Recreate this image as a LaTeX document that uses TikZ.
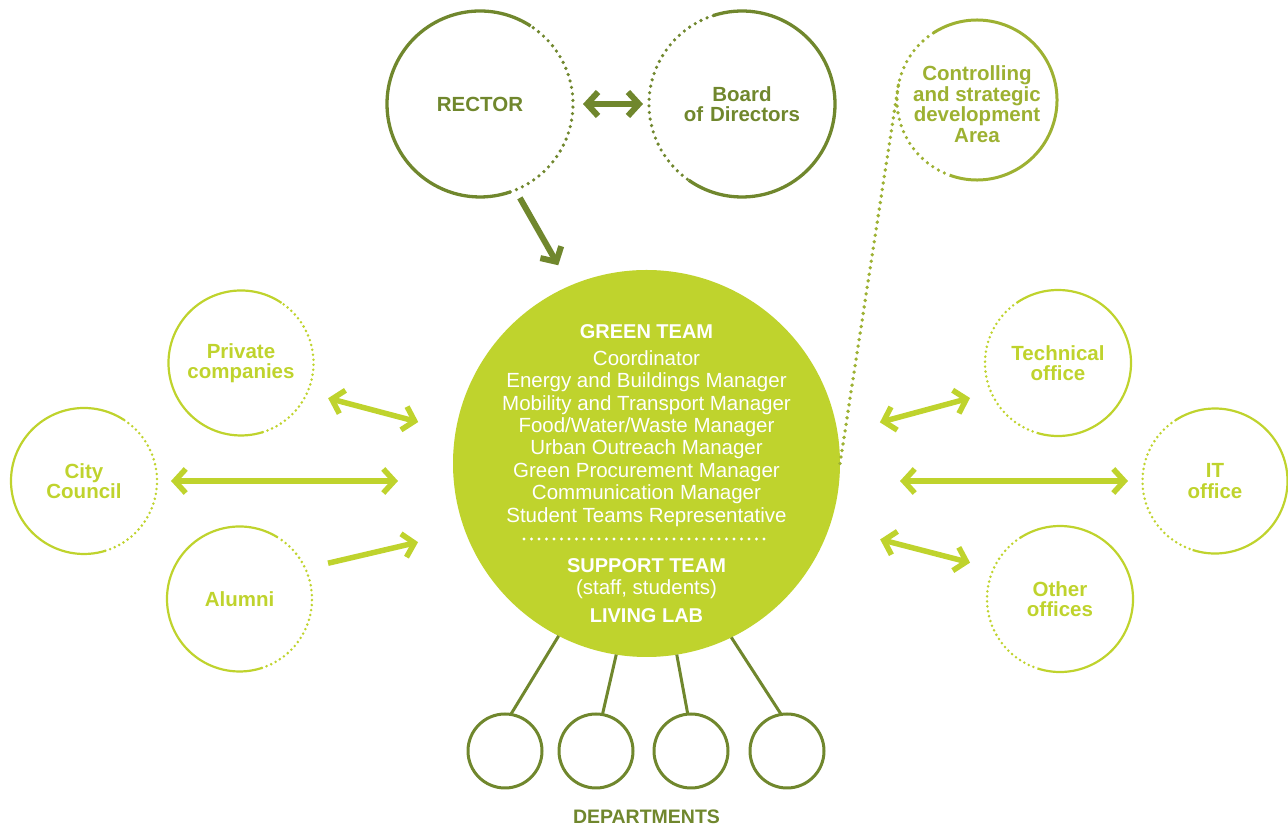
\documentclass[tikz,border=0pt]{standalone}
\usepackage{fontspec}
\setmainfont{Liberation Sans}
\usetikzlibrary{arrows.meta,calc}
\definecolor{oliveg}{RGB}{112,135,45}
\definecolor{limeg}{RGB}{191,211,45}
\definecolor{ctrlg}{RGB}{157,177,50}
\newcommand\lblfont{\fontsize{20.5}{20.5}\selectfont\bfseries}
\newcommand\gtbold{\fontsize{20}{20}\selectfont\bfseries}
\newcommand\gtreg{\fontsize{20.5}{20.5}\selectfont}
% #1 node, #2 radius, #3 dotted start, #4 dotted end, #5 colour, #6 width, #7 dot size, #8 dot gap
\newcommand\arcring[8]{%
  \draw[#5, line width=#6] ([shift={(#4:#2)}]#1.center) arc[start angle=#4, end angle=#3+360, radius=#2];
  \draw[#5, line width=#7, line cap=round, dash pattern=on 0pt off #8] ([shift={(#3:#2)}]#1.center) arc[start angle=#3, end angle=#4, radius=#2];}
\tikzset{
  ring/.style={circle, inner sep=0pt, outer sep=0pt, minimum size=#1, align=center},
  >={Straight Barb[length=11pt,width=24pt]},
  garrow/.style={draw=limeg, line width=5.5pt},
  oarrow/.style={draw=oliveg, line width=6pt},
  deptline/.style={draw=oliveg, line width=3pt},
  gtline/.style={anchor=base, text=white},
}
\begin{document}
\begin{tikzpicture}[x=1pt,y=1pt]
\useasboundingbox (0,0) rectangle (1288,829);
% central circle
\node[ring=387pt, fill=limeg] (gt) at (646.5,365.5) {};
% top circles
\node[ring=186pt, text=oliveg, font=\lblfont] (rector) at (480,725) {RECTOR};
\node[ring=186pt, text=oliveg, font=\lblfont, text width=180pt] (board) at (742,725) {\fontsize{20.5}{21.5}\selectfont Board\\of Directors};
\node[ring=160pt] (ctrl) at (977,729) {};
\node[text=ctrlg, font=\lblfont, align=center] (ctrltxt) at (977,725) {Controlling\\and strategic\\development\\Area};
% left circles
\node[ring=145pt, text=limeg, font=\lblfont, text width=140pt] (priv) at (241,466) {Private\\companies};
\node[ring=146pt, text=limeg, font=\lblfont, text width=140pt] (city) at (84,348) {City\\Council};
\node[ring=145pt, text=limeg, font=\lblfont] (alum) at (239.5,230) {Alumni};
% right circles
\node[ring=146pt, text=limeg, font=\lblfont, text width=140pt] (tech) at (1058,466) {Technical\\office};
\node[ring=145pt, text=limeg, font=\lblfont, text width=140pt] (it) at (1215,348) {IT\\office};
\node[ring=146pt, text=limeg, font=\lblfont, text width=140pt] (other) at (1060,230) {Other\\offices};
% departments
\node[ring=74pt, draw=oliveg, line width=3pt] (d1) at (505,78) {};
\node[ring=74pt, draw=oliveg, line width=3pt] (d2) at (596,78) {};
\node[ring=74pt, draw=oliveg, line width=3pt] (d3) at (691,78) {};
\node[ring=74pt, draw=oliveg, line width=3pt] (d4) at (787,78) {};
\node[anchor=base, text=oliveg, font=\fontsize{19.5}{19.5}\selectfont\bfseries] (dept) at (646.5,5) {DEPARTMENTS};
% rings
\arcring{rector}{93pt}{-71}{57}{oliveg}{3.3pt}{3.6pt}{6.6pt}
\arcring{board}{93pt}{108}{235}{oliveg}{3.3pt}{3.6pt}{6.6pt}
\arcring{ctrl}{80pt}{123}{250}{ctrlg}{3pt}{3.6pt}{6.6pt}
\arcring{priv}{72.5pt}{-72.5}{56}{limeg}{2.2pt}{2.8pt}{5pt}
\arcring{city}{73pt}{-73}{57}{limeg}{2.2pt}{2.8pt}{5pt}
\arcring{alum}{72.5pt}{-72}{58}{limeg}{2.2pt}{2.8pt}{5pt}
\arcring{tech}{73pt}{124}{253}{limeg}{2.2pt}{2.8pt}{5pt}
\arcring{it}{72.5pt}{123}{252}{limeg}{2.2pt}{2.8pt}{5pt}
\arcring{other}{73pt}{123}{252}{limeg}{2.2pt}{2.8pt}{5pt}
% green team text
\node[gtline, font=\gtbold] (g1) at (646.5,490) {GREEN TEAM};
\node[gtline, font=\gtreg] (g2) at (646.5,463.3) {Coordinator};
\node[gtline, font=\gtreg] (g3) at (646.5,441) {Energy and Buildings Manager};
\node[gtline, font=\gtreg] (g4) at (646.5,418.3) {Mobility and Transport Manager};
\node[gtline, font=\gtreg] (g5) at (646.5,396.3) {Food/Water/Waste Manager};
\node[gtline, font=\gtreg] (g6) at (646.5,374) {Urban Outreach Manager};
\node[gtline, font=\gtreg] (g7) at (646.5,351.3) {Green Procurement Manager};
\node[gtline, font=\gtreg] (g8) at (646.5,329) {Communication Manager};
\node[gtline, font=\gtreg] (g9) at (646.5,306.3) {Student Teams Representative};
\coordinate (sepL) at (524,290);
\coordinate (sepR) at (770,290);
\draw[white, line width=3.2pt, line cap=round, dash pattern=on 0pt off 7.5pt] (sepL) -- (sepR);
\node[gtline, font=\gtbold] (g10) at (646.5,256.3) {SUPPORT TEAM};
\node[gtline, font=\gtreg] (g11) at (646.5,234) {(staff, students)};
\node[gtline, font=\gtbold] (g12) at (646.5,206) {LIVING LAB};
% dotted link to controlling
\draw[ctrlg, line width=3.8pt, line cap=round, dash pattern=on 0pt off 6.6pt] (gt.0) -- (ctrl.169);
% department links
\draw[deptline] (d1.81) -- (gt.243.6);
\draw[deptline] (d2.80) -- (gt.261);
\draw[deptline] (d3.95) -- (gt.279);
\draw[deptline] (d4.99) -- (gt.296.4);
% arrows
\draw[oarrow, <->] ([xshift=10pt]rector.east) -- ([xshift=-6pt]board.west);
\draw[oarrow, ->] ([shift={(-67:102pt)}]rector.center) -- ([shift={(114:217pt)}]gt.center);
\draw[garrow, <->] ([shift={(-22:94pt)}]priv.center) -- ([shift={(169.7:232pt)}]gt.center);
\draw[garrow, <->] ([xshift=14pt]city.east) -- ($(city.east -| gt.west)+(-55pt,0)$);
\draw[garrow, ->] ([shift={(22:95.5pt)}]alum.center) -- ([shift={(199:241.6pt)}]gt.center);
\draw[garrow, <->] ([shift={(201.7:94.7pt)}]tech.center) -- ([shift={(10:237pt)}]gt.center);
\draw[garrow, <->] ($(it.west -| gt.east)+(60pt,0)$) -- ([xshift=-14.5pt]it.west);
\draw[garrow, <->] ([shift={(158:97pt)}]other.center) -- ([shift={(-18:245.7pt)}]gt.center);
\end{tikzpicture}
\end{document}
